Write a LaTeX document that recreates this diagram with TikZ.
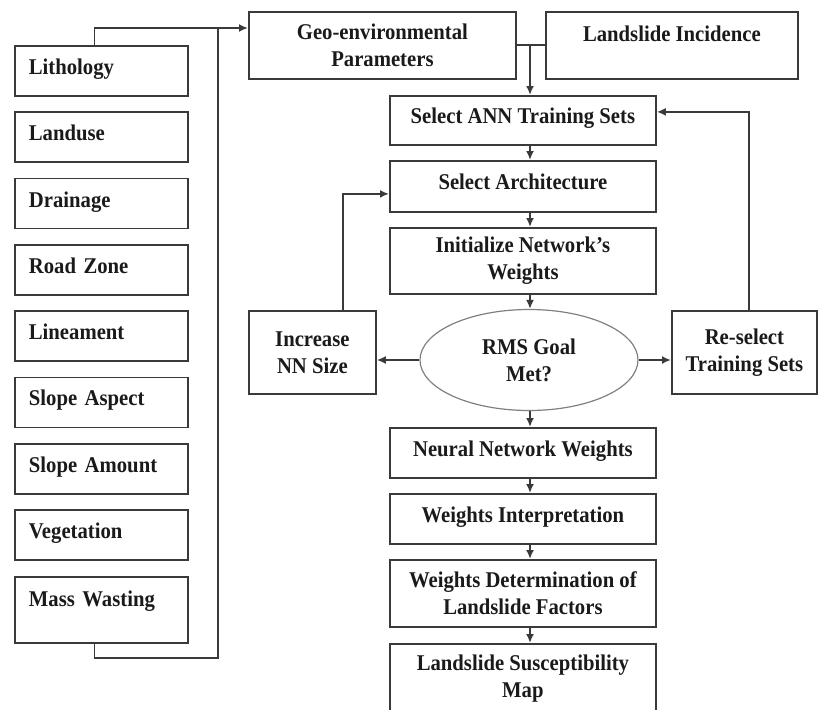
\documentclass[tikz,border=0pt]{standalone}
\usepackage{fontspec}
\setmainfont[FakeStretch=0.92]{Liberation Serif}
\usepackage{tikz}
\usetikzlibrary{shapes.geometric, arrows.meta, calc}
\definecolor{grigio}{HTML}{3A3A3A}
\definecolor{grigiochiaro}{HTML}{808080}
\definecolor{testo}{HTML}{1A1A1A}

\tikzset{
    scatola/.style={draw=grigio, line width=1.8pt, rectangle, inner sep=0pt, anchor=north west, text=testo, font=\bfseries\fontsize{22.5}{27}\selectfont},
    fattore/.style={scatola, minimum width=173pt, minimum height=50pt, text width=145pt, align=left, text height=15pt, text depth=8pt},
    passo/.style={scatola, minimum width=266pt, align=center},
    singola/.style={text height=15pt, text depth=8pt},
    tratto/.style={draw=grigio, line width=1.8pt},
    freccia/.style={tratto, -{Latex[length=9pt,width=8pt]}}
}

\begin{document}
\begin{tikzpicture}[x=1pt, y=-1pt]
    \useasboundingbox (0,0) rectangle (818,709);
    % Parametri
    \pgfmathsetmacro{\colx}{389}
    \pgfmathsetmacro{\passo}{66.3}
    \coordinate (asse) at (530,0);
    \coordinate (bus) at (218,28);
    \coordinate (busfondo) at (218,658);

    % Colonna dei fattori
    \foreach \nome/\testo [count=\i from 0] in {litho/Lithology, landuse/Landuse, drain/Drainage, road/Road Zone, lineam/Lineament, aspect/Slope Aspect, amount/Slope Amount, veg/Vegetation}
        \node[fattore] (\nome) at (14,{45+\passo*\i}) {\testo};
    \node[fattore, minimum height=66pt, text depth=22pt] (mass) at (14,576) {Mass Wasting};

    % Dati in ingresso
    \node[scatola, minimum width=267pt, minimum height=67pt, align=center] (geo) at (248,11) {Geo-environmental\\Parameters};
    \node[scatola, singola, minimum width=252pt, minimum height=67pt, text depth=22pt] (incid) at (545,11) {Landslide Incidence};

    % Catena centrale
    \node[passo, singola, minimum height=49pt] (ann) at (\colx,95) {Select ANN Training Sets};
    \node[passo, singola, minimum height=51pt] (arch) at (\colx,160) {Select Architecture};
    \node[passo, minimum height=66pt] (init) at (\colx,227) {Initialize Network's\\Weights};
    \node[ellipse, draw=grigiochiaro, line width=1.2pt, minimum width=218pt, minimum height=101pt, inner sep=0pt, align=center, text=testo, font=\bfseries\fontsize{22.5}{27}\selectfont] (rms) at (529,360) {RMS Goal\\Met?};
    \node[passo, singola, minimum height=50pt] (nnw) at (\colx,427) {Neural Network Weights};
    \node[passo, singola, minimum height=50pt] (interp) at (\colx,493) {Weights Interpretation};
    \node[passo, minimum height=67pt] (determ) at (\colx,559) {Weights Determination of\\Landslide Factors};
    \node[passo, minimum height=69pt] (map) at (\colx,643) {Landslide Susceptibility\\Map};

    % Rami laterali
    \node[scatola, minimum width=127pt, minimum height=83pt, align=center] (incr) at (248,310) {Increase\\NN Size};
    \node[scatola, minimum width=145pt, minimum height=83pt, align=center] (resel) at (671,310) {Re-select\\Training Sets};

    % Collegamenti a sinistra
    \draw[freccia] ([xshift=-7pt]litho.north) |- (geo.west |- bus);
    \draw[tratto] ([xshift=-7pt]mass.south) |- (busfondo) -- (bus);

    % Collegamenti in alto
    \draw[tratto] (geo.east) -- (incid.west);
    \draw[freccia] (geo.east -| asse) -- (ann.north -| asse);

    % Frecce verticali
    \draw[freccia] (ann.south -| asse) -- (arch.north -| asse);
    \draw[freccia] (arch.south -| asse) -- (init.north -| asse);
    \draw[freccia] (init.south -| asse) -- (rms.north -| asse);
    \draw[freccia] (rms.south -| asse) -- (nnw.north -| asse);
    \draw[freccia] (nnw.south -| asse) -- (interp.north -| asse);
    \draw[freccia] (interp.south -| asse) -- (determ.north -| asse);
    \draw[freccia] (determ.south -| asse) -- (map.north -| asse);

    % Anelli di ritorno
    \draw[freccia] (rms.west) -- (rms.west -| incr.east);
    \draw[freccia] (rms.east) -- (rms.east -| resel.west);
    \draw[freccia] ([xshift=30.5pt]incr.north) |- ([yshift=-7.5pt]arch.west);
    \draw[freccia] ([xshift=4.5pt]resel.north) |- ([yshift=8.5pt]ann.east);
\end{tikzpicture}
\end{document}
